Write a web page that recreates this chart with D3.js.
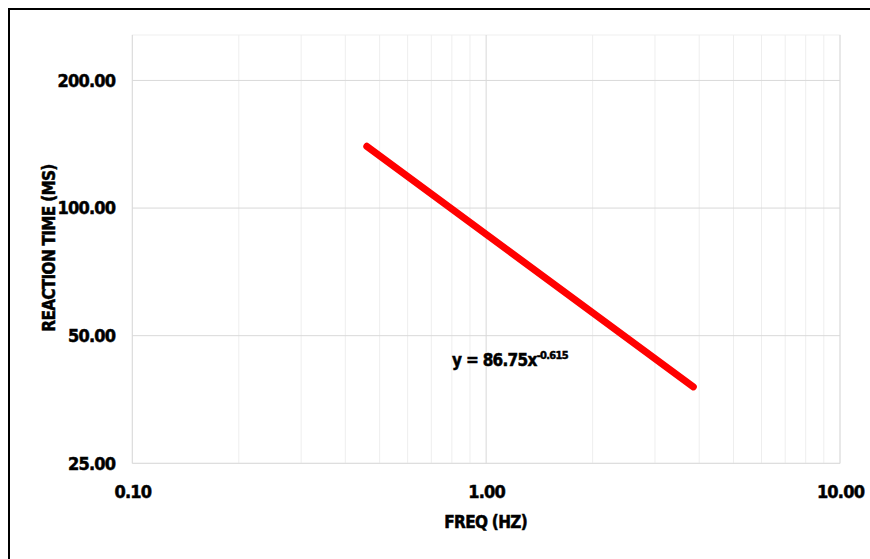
<!DOCTYPE html>
<html>
<head>
<meta charset="utf-8">
<script src="https://cdn.jsdelivr.net/npm/d3@7"></script>
<style>
  html, body { margin: 0; padding: 0; background: #fff; }
  svg text { font-family: "Liberation Sans Narrow", "DejaVu Sans Condensed", "Liberation Sans", sans-serif; font-weight: bold; fill: #000; stroke: #000; stroke-width: 0.5px; }
</style>
</head>
<body>
<svg id="chart" width="870" height="559"></svg>
<script>
// Power-law trend of reaction time vs. stimulus frequency
const fitCoefficient = 86.75;
const fitExponent = -0.615;
const freqRange = [0.46, 3.85];          // Hz, span covered by the fitted line
const xTicks = [0.1, 1, 10];
const yTicks = [25, 50, 100, 200];
const xDomain = [0.1, 10];
const yDomain = [25, 256];

const svg = d3.select("#chart");
const plot = { left: 132.3, right: 840, top: 35, bottom: 463.3 };

const x = d3.scaleLog().base(10).domain(xDomain).range([plot.left, plot.right]);
const y = d3.scaleLog().base(2).domain(yDomain).range([plot.bottom, plot.top]);

// outer frame
svg.append("rect")
  .attr("x", 9).attr("y", 9).attr("width", 900).attr("height", 600)
  .attr("fill", "none").attr("stroke", "#000").attr("stroke-width", 2);

// plot area border
svg.append("rect")
  .attr("x", plot.left).attr("y", plot.top)
  .attr("width", plot.right - plot.left).attr("height", plot.bottom - plot.top)
  .attr("fill", "none").attr("stroke", "#f0f0f0").attr("stroke-width", 1);

// minor vertical gridlines (2..9 within each decade)
const minorX = [];
for (const d of [0.1, 1]) for (let k = 2; k <= 9; k++) minorX.push(d * k);
svg.append("g").selectAll("line").data(minorX).join("line")
  .attr("x1", d => x(d)).attr("x2", d => x(d))
  .attr("y1", plot.top).attr("y2", plot.bottom)
  .attr("stroke", "#eeeeee").attr("stroke-width", 1);

// major gridlines
svg.append("g").selectAll("line").data(xTicks).join("line")
  .attr("x1", d => x(d)).attr("x2", d => x(d))
  .attr("y1", plot.top).attr("y2", plot.bottom)
  .attr("stroke", "#d9d9d9").attr("stroke-width", 1);
svg.append("g").selectAll("line").data(yTicks).join("line")
  .attr("x1", plot.left).attr("x2", plot.right)
  .attr("y1", d => y(d)).attr("y2", d => y(d))
  .attr("stroke", "#d9d9d9").attr("stroke-width", 1);

// axes (labels only, no domain or tick marks)
const fmt = d3.format(".2f");
const xAxis = svg.append("g")
  .attr("transform", `translate(0,${plot.bottom})`)
  .call(d3.axisBottom(x).tickValues(xTicks).tickFormat(fmt).tickSize(0).tickPadding(22));
const yAxis = svg.append("g")
  .attr("transform", `translate(${plot.left},0)`)
  .call(d3.axisLeft(y).tickValues(yTicks).tickFormat(fmt).tickSize(0).tickPadding(17));
[xAxis, yAxis].forEach(g => {
  g.select(".domain").remove();
  g.selectAll("text")
    .style("font-size", "18px")
    .style("letter-spacing", "-0.8px")
    .attr("font-family", null);
});

// fitted power-law line
const fitLine = freqRange.map(f => [f, fitCoefficient * Math.pow(f, fitExponent)]);
svg.append("path")
  .datum(fitLine)
  .attr("d", d3.line().x(d => x(d[0])).y(d => y(d[1])))
  .attr("fill", "none").attr("stroke", "#ff0000")
  .attr("stroke-width", 7).attr("stroke-linecap", "round");

// equation label
const eq = svg.append("text")
  .attr("x", 452).attr("y", 366)
  .style("font-size", "17px").style("letter-spacing", "-0.7px");
eq.append("tspan").text(`y = ${fitCoefficient}x`);
eq.append("tspan").attr("dy", -7).style("font-size", "11px").text(fitExponent.toString());

// axis titles
svg.append("text")
  .attr("x", (plot.left + plot.right) / 2 - 0.5).attr("y", 528)
  .attr("text-anchor", "middle")
  .style("font-size", "17px").style("letter-spacing", "-0.7px")
  .text("FREQ (HZ)");
svg.append("text")
  .attr("transform", "translate(55,248) rotate(-90)")
  .attr("text-anchor", "middle")
  .style("font-size", "17px").style("letter-spacing", "-0.7px")
  .text("REACTION TIME (MS)");
</script>
</body>
</html>
